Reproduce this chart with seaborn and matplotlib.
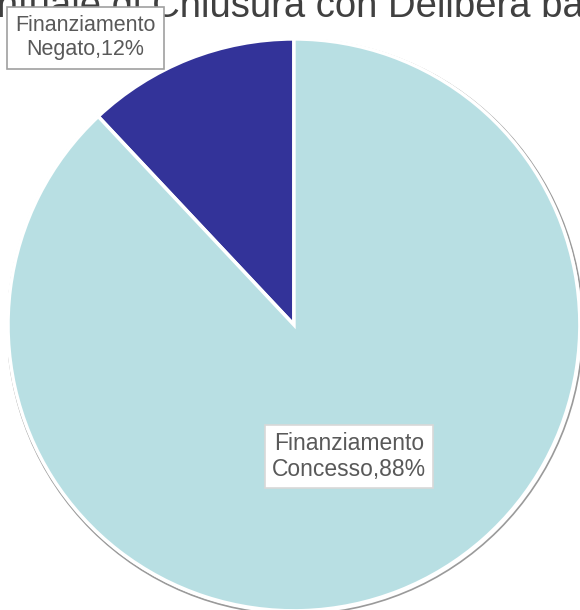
import matplotlib
matplotlib.use("Agg")
import matplotlib.pyplot as plt
import seaborn as sns
from matplotlib.patches import Circle

categories = ["Finanziamento\nNegato", "Finanziamento\nConcesso"]
values = [12, 88]
colors = ["#333399", "#B8DFE3"]
title = "Percentuale di Chiusura con Delibera bancaria"

sns.set_theme(style="white")
plt.rcParams['font.family'] = ['Liberation Sans', 'DejaVu Sans']

fig = plt.figure(figsize=(5.8, 6.1), dpi=100)
ax = fig.add_axes([0.0138, -0.0016, 0.986, 0.938])
ax.set_xlim(-1, 1)
ax.set_ylim(-1, 1)
ax.set_aspect('equal')
ax.axis('off')

ax.add_patch(Circle((0.004, -0.006), 1.006, facecolor='none', edgecolor='#9a9a9a', lw=1.2, zorder=0))
wedges, _ = ax.pie(values, colors=colors, startangle=90, counterclock=True, radius=1.0,
                   wedgeprops=dict(edgecolor='white', linewidth=2.5))
ax.set_xlim(-1, 1)
ax.set_ylim(-1, 1)

label_pos = [(-0.729, 1.004), (0.194, -0.460)]
label_size = [15.5, 16.5]
label_pad = [0.38, 0.3]
label_edge = ['#a0a0a0', '#d8d8d8']
for cat, v, (x, y), fs, pad, ec in zip(categories, values, label_pos, label_size, label_pad, label_edge):
    ax.text(x, y, f"{cat},{v}%", ha='center', va='center', fontsize=fs, color='#595959',
            linespacing=1.2,
            bbox=dict(boxstyle=f'square,pad={pad}', facecolor='white', edgecolor=ec, lw=1.2),
            zorder=5, clip_on=False)

# title, partially cut off at the top-left as in the reference (drawn behind the chart)
renderer = fig.canvas.get_renderer()
probe = fig.text(0, 0, "Perce", fontsize=27.5)
w = probe.get_window_extent(renderer).width
probe.remove()
fig.text(-w / 580.0 - 0.005, 1 - 17 / 610.0, title, ha='left', va='baseline', fontsize=27.5,
         color='#404040', zorder=-1)

fig.savefig("out.png", dpi=100)
